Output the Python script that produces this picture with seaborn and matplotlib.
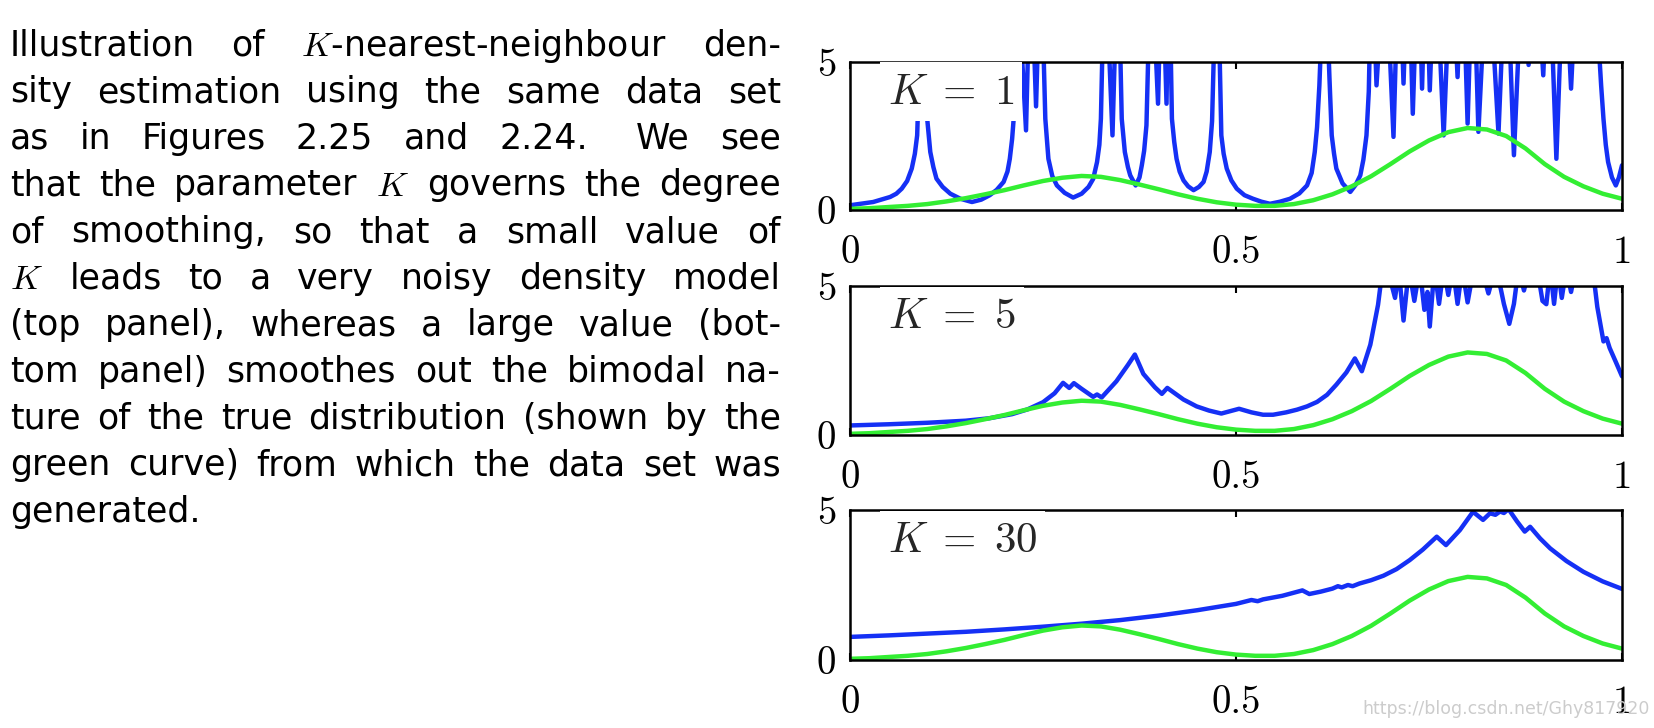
import matplotlib
matplotlib.use("Agg")
import matplotlib.pyplot as plt
import seaborn as sns

# ---------------- data ----------------
x_true = [0.000, 0.025, 0.050, 0.075, 0.100, 0.125, 0.150, 0.175, 0.200, 0.225,
          0.250, 0.275, 0.300, 0.325, 0.350, 0.375, 0.400, 0.425, 0.450, 0.475,
          0.500, 0.525, 0.550, 0.575, 0.600, 0.625, 0.650, 0.675, 0.700, 0.725,
          0.750, 0.775, 0.800, 0.825, 0.850, 0.875, 0.900, 0.925, 0.950, 0.975, 1.000]
p_true = [0.04, 0.06, 0.10, 0.14, 0.20, 0.29, 0.40, 0.53, 0.67, 0.83,
          0.98, 1.09, 1.15, 1.12, 1.01, 0.86, 0.70, 0.53, 0.38, 0.26,
          0.18, 0.14, 0.14, 0.20, 0.33, 0.53, 0.80, 1.14, 1.55, 1.98,
          2.35, 2.63, 2.77, 2.72, 2.50, 2.08, 1.55, 1.12, 0.80, 0.55, 0.38]

x_k1 = [0.000, 0.030, 0.052, 0.060, 0.067, 0.074, 0.080, 0.084, 0.087, 0.095,
        0.100, 0.104, 0.108, 0.112, 0.120, 0.130, 0.143, 0.158, 0.170, 0.181,
        0.190, 0.199, 0.204, 0.207, 0.210, 0.212, 0.215, 0.228, 0.234, 0.241,
        0.247, 0.253, 0.257, 0.262, 0.268, 0.278, 0.289, 0.300, 0.309, 0.315,
        0.320, 0.323, 0.325, 0.330, 0.340, 0.347, 0.352, 0.356, 0.360, 0.363,
        0.370, 0.375, 0.378, 0.381, 0.384, 0.390, 0.399, 0.404, 0.410, 0.413,
        0.417, 0.420, 0.423, 0.427, 0.432, 0.438, 0.445, 0.452, 0.458, 0.462,
        0.466, 0.469, 0.475, 0.479, 0.481, 0.484, 0.488, 0.494, 0.501, 0.511,
        0.522, 0.533, 0.544, 0.557, 0.570, 0.582, 0.592, 0.598, 0.602, 0.605,
        0.608, 0.615, 0.621, 0.624, 0.627, 0.630, 0.638, 0.648, 0.655, 0.661,
        0.665, 0.669, 0.672, 0.676, 0.682, 0.693, 0.704, 0.711, 0.717, 0.723,
        0.729, 0.736, 0.741, 0.746, 0.751, 0.758, 0.769, 0.779, 0.787, 0.793,
        0.800, 0.807, 0.814, 0.826, 0.840, 0.850, 0.860, 0.872, 0.879, 0.888,
        0.898, 0.905, 0.915, 0.925, 0.934, 0.943, 0.955, 0.962, 0.970, 0.973,
        0.976, 0.979, 0.982, 0.987, 0.992, 0.996, 1.000]
p_k1 = [0.16, 0.27, 0.44, 0.55, 0.72, 0.98, 1.40, 1.90, 2.52, 9.00,
        3.08, 1.96, 1.45, 1.06, 0.78, 0.55, 0.38, 0.27, 0.35, 0.50,
        0.68, 0.95, 1.30, 1.73, 2.40, 3.08, 9.00, 2.69, 9.00, 3.50,
        9.00, 3.08, 1.73, 1.15, 0.83, 0.58, 0.42, 0.55, 0.78, 1.05,
        1.62, 2.20, 3.08, 9.00, 2.52, 9.00, 3.08, 1.96, 1.45, 1.17,
        0.83, 1.10, 1.51, 2.00, 2.86, 9.00, 3.59, 9.00, 3.59, 9.00,
        3.08, 2.30, 1.73, 1.30, 1.00, 0.80, 0.67, 0.78, 0.95, 1.30,
        1.96, 3.00, 9.00, 5.00, 2.52, 1.90, 1.40, 1.00, 0.72, 0.50,
        0.38, 0.28, 0.21, 0.28, 0.38, 0.56, 0.83, 1.25, 1.96, 2.80,
        4.21, 9.00, 4.50, 2.52, 1.90, 1.40, 0.90, 0.61, 0.85, 1.17,
        1.70, 2.52, 4.00, 9.00, 4.21, 9.00, 2.47, 9.00, 4.27, 9.00,
        3.25, 9.00, 4.10, 9.00, 4.04, 9.00, 2.52, 9.00, 4.49, 9.00,
        2.92, 9.00, 2.64, 9.00, 2.58, 9.00, 1.85, 9.00, 4.90, 9.00,
        4.55, 9.00, 1.73, 9.00, 4.10, 9.00, 6.00, 9.00, 5.50, 4.20,
        3.08, 2.20, 1.62, 1.10, 0.83, 1.10, 1.51]

x_k5 = [0.000, 0.050, 0.100, 0.150, 0.180, 0.210, 0.230, 0.250, 0.265, 0.276,
        0.284, 0.290, 0.300, 0.315, 0.320, 0.326, 0.345, 0.360, 0.369, 0.380,
        0.395, 0.404, 0.411, 0.432, 0.449, 0.465, 0.481, 0.504, 0.520, 0.535,
        0.548, 0.565, 0.579, 0.592, 0.605, 0.618, 0.630, 0.643, 0.654, 0.663,
        0.674, 0.684, 0.690, 0.697, 0.706, 0.711, 0.717, 0.724, 0.731, 0.738,
        0.744, 0.748, 0.751, 0.757, 0.763, 0.769, 0.775, 0.781, 0.787, 0.793,
        0.800, 0.808, 0.818, 0.827, 0.836, 0.843, 0.847, 0.854, 0.860, 0.866,
        0.873, 0.880, 0.890, 0.897, 0.902, 0.907, 0.912, 0.917, 0.922, 0.928,
        0.934, 0.940, 0.962, 0.968, 0.976, 0.980, 0.984, 0.992, 1.000]
p_k5 = [0.32, 0.36, 0.41, 0.48, 0.56, 0.70, 0.86, 1.10, 1.40, 1.75,
        1.58, 1.74, 1.55, 1.28, 1.36, 1.26, 1.80, 2.35, 2.70, 2.05,
        1.60, 1.38, 1.58, 1.19, 0.96, 0.82, 0.72, 0.88, 0.76, 0.68,
        0.68, 0.76, 0.85, 0.96, 1.11, 1.35, 1.69, 2.10, 2.57, 2.14,
        3.03, 4.37, 5.60, 5.50, 4.60, 5.50, 3.84, 5.60, 4.50, 5.60,
        4.20, 4.80, 3.64, 5.60, 4.40, 5.60, 4.70, 5.60, 4.40, 5.60,
        4.45, 5.60, 5.60, 4.75, 5.60, 4.90, 4.40, 3.73, 4.40, 5.60,
        4.85, 5.60, 5.60, 4.50, 4.39, 5.60, 4.40, 5.60, 4.60, 5.60,
        4.80, 5.60, 5.60, 4.30, 3.14, 3.25, 2.92, 2.45, 1.97]

x_k30 = [0.000, 0.050, 0.100, 0.150, 0.200, 0.250, 0.300, 0.350, 0.400, 0.450,
         0.500, 0.520, 0.528, 0.535, 0.560, 0.586, 0.595, 0.610, 0.625, 0.632,
         0.637, 0.645, 0.651, 0.660, 0.675, 0.691, 0.708, 0.725, 0.742, 0.760,
         0.772, 0.790, 0.807, 0.820, 0.829, 0.836, 0.842, 0.847, 0.853, 0.864,
         0.874, 0.881, 0.894, 0.907, 0.928, 0.950, 0.975, 1.000]
p_k30 = [0.77, 0.82, 0.88, 0.94, 1.02, 1.11, 1.21, 1.33, 1.48, 1.66,
         1.87, 2.00, 1.96, 2.02, 2.14, 2.32, 2.20, 2.28, 2.38, 2.46,
         2.42, 2.50, 2.46, 2.55, 2.66, 2.81, 3.03, 3.33, 3.68, 4.11,
         3.83, 4.33, 4.94, 4.67, 4.89, 4.84, 4.95, 4.90, 5.03, 4.62,
         4.28, 4.44, 4.05, 3.72, 3.30, 2.94, 2.62, 2.37]

panel_labels = [r"$K\;=\;1$", r"$K\;=\;5$", r"$K\;=\;30$"]
x_ticks = [0, 0.5, 1]
x_tick_labels = ["0", "0.5", "1"]
y_ticks = [0, 5]
y_tick_labels = ["0", "5"]

caption_lines = [
    "Illustration of $K$-nearest-neighbour den-",
    "sity estimation using the same data set",
    "as in Figures 2.25 and 2.24. We see",
    "that the parameter $K$ governs the degree",
    "of smoothing, so that a small value of",
    "$K$ leads to a very noisy density model",
    "(top panel), whereas a large value (bot-",
    "tom panel) smoothes out the bimodal na-",
    "ture of the true distribution (shown by the",
    "green curve) from which the data set was",
    "generated.",
]
watermark = "https://blog.csdn.net/Ghy817920"

# ---------------- styling ----------------
sns.set_theme(style="white")
plt.rcParams['font.family'] = ['DejaVu Sans']
plt.rcParams['mathtext.fontset'] = 'cm'

BLUE = "#1530F5"
GREEN = "#33EE33"

W, H = 1654, 728
fig = plt.figure(figsize=(W / 100, H / 100), dpi=100)

left_px, right_px = 850, 1622
panel_px = [(62, 210), (286, 435), (510, 660)]
blue_series = [(x_k1, p_k1), (x_k5, p_k5), (x_k30, p_k30)]

for (top, bot), (bx, by), lab in zip(panel_px, blue_series, panel_labels):
    ax = fig.add_axes([left_px / W, 1 - bot / H, (right_px - left_px) / W, (bot - top) / H])
    sns.lineplot(x=bx, y=by, ax=ax, color=BLUE, lw=3.2, estimator=None, sort=False)
    sns.lineplot(x=x_true, y=p_true, ax=ax, color=GREEN, lw=3.2, estimator=None, sort=False)
    ax.set_xlim(0, 1)
    ax.set_ylim(0, 5)
    ax.set_xlabel("")
    ax.set_ylabel("")
    ax.set_xticks(x_ticks)
    ax.set_xticklabels(x_tick_labels, fontfamily='cmr10', fontsize=28)
    ax.set_yticks(y_ticks)
    ax.set_yticklabels(y_tick_labels, fontfamily='cmr10', fontsize=28)
    ax.tick_params(axis='x', direction='in', length=5, width=1.5, top=True, bottom=True,
                   pad=18, colors='black')
    ax.tick_params(axis='y', direction='in', length=0, width=1.5, left=True, pad=10,
                   colors='black')
    for sp in ax.spines.values():
        sp.set_visible(True)
        sp.set_color('black')
        sp.set_linewidth(1.8)
    ax.text(0.049, 0.80, lab, transform=ax.transAxes, fontsize=31, va='center', ha='left',
            bbox=dict(fc='white', ec='none', pad=6), zorder=5)

# ---------------- justified caption ----------------
fig.canvas.draw()
renderer = fig.canvas.get_renderer()
x0, x1 = 10, 781
base0, step = 55.7, 46.6
min_gap = 9.0

# choose the largest size (up to 25 pt) at which every justified line fits
fs0 = 25.0
scale = 1.0
for line in caption_lines[:-1]:
    words = line.split()
    ts = [fig.text(0, 0, w, fontsize=fs0) for w in words]
    tot = sum(t.get_window_extent(renderer).width for t in ts)
    for t in ts:
        t.remove()
    scale = min(scale, (x1 - x0 - min_gap * (len(words) - 1)) / tot)
cap_fs = fs0 * scale

for i, line in enumerate(caption_lines):
    words = line.split()
    yb = 1 - (base0 + i * step) / H
    texts = [fig.text(0, yb, w, fontsize=cap_fs, va='baseline', ha='left', color='black')
             for w in words]
    widths = [t.get_window_extent(renderer).width for t in texts]
    last = (i == len(caption_lines) - 1)
    weights = [1.6 if w.endswith('.') else 1.0 for w in words[:-1]]
    if last or len(words) == 1:
        unit = 9.0
        weights = [1.0] * (len(words) - 1)
    else:
        unit = (x1 - x0 - sum(widths)) / sum(weights)
    x = x0
    for k, (t, w) in enumerate(zip(texts, widths)):
        t.set_x(x / W)
        if k < len(weights):
            x += w + unit * weights[k]

fig.text(1650 / W, 1 - 709 / H, watermark, fontsize=12.5, color='#cccccc', ha='right',
         va='center', zorder=0)

fig.savefig("out.png", dpi=100)
